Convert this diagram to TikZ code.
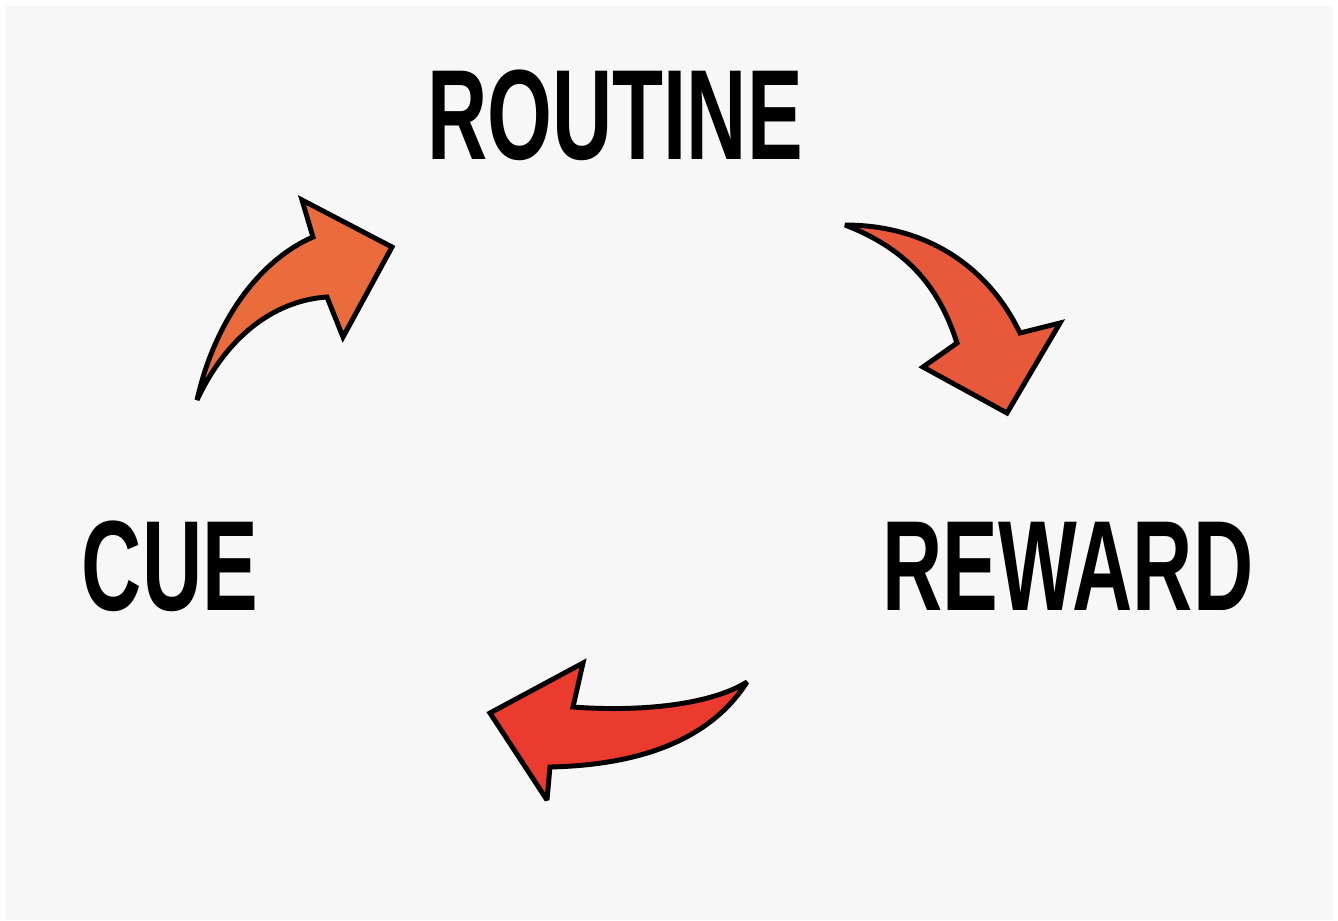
\documentclass[tikz,border=0pt]{standalone}
\usepackage{fontspec}
\setmainfont{Liberation Sans}
\usepackage{tikz}
\definecolor{bggray}{HTML}{F7F7F7}
\definecolor{arrowA}{HTML}{EA6B3C}
\definecolor{arrowB}{HTML}{E8583A}
\definecolor{arrowC}{HTML}{EB3A2E}
\newcommand{\habitword}[1]{\scalebox{0.65}[1]{\bfseries #1}}
\begin{document}
\begin{tikzpicture}[x=0.01cm, y=-0.01cm,
  word/.style={inner sep=0pt, font=\fontsize{36.5}{40}\selectfont},
  bigarrow/.style={draw=black, line width=1.4pt, line join=miter, miter limit=3}]
\useasboundingbox (0,0) rectangle (1338,920);
\fill[white] (0,0) rectangle (1338,920);
\fill[bggray] (6,6) rectangle (1333,920);
\node[word] (routine) at (615,115) {\habitword{ROUTINE}};
\node[word] (cue) at (170,566) {\habitword{CUE}};
\node[word] (reward) at (1068,566) {\habitword{REWARD}};
% cue -> routine
\filldraw[bigarrow, fill=arrowA] (197,400) .. controls (215,320) and (260,260) .. (313,237)
  -- (302,200) -- (392,247) -- (343,337) -- (327,297)
  .. controls (280,300) and (230,330) .. cycle;
% routine -> reward
\filldraw[bigarrow, fill=arrowB] (845,225) .. controls (930,225) and (990,270) .. (1020,333)
  -- (1060,323) -- (1007,413) -- (923,367) -- (957,343)
  .. controls (940,290) and (910,250) .. cycle;
% reward -> cue
\filldraw[bigarrow, fill=arrowC] (747,682) .. controls (710,705) and (640,712) .. (573,707)
  -- (583,663) -- (490,713) -- (547,800) -- (550,767)
  .. controls (640,765) and (710,740) .. cycle;
\end{tikzpicture}
\end{document}
